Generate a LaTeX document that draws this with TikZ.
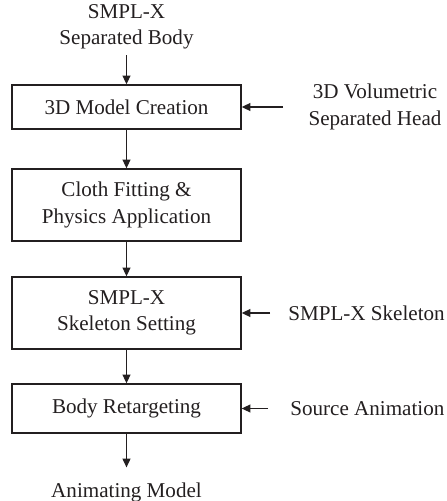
\documentclass[tikz,border=0pt]{standalone}
\usepackage{fontspec}
\setmainfont{Liberation Serif}
\usepackage{xcolor}
\usepackage{tikz}
\usetikzlibrary{arrows.meta}
\definecolor{ink}{HTML}{231F20}
\tikzset{
  blk/.style={draw=ink, line width=0.75pt, minimum width=4.58cm, align=center, text=ink, font=\fontsize{12}{15}\selectfont},
  arr/.style={draw=ink, line width=0.75pt, -{Triangle[length=5pt,width=4.5pt]}},
  lab/.style={text=ink, align=center, font=\fontsize{12}{15}\selectfont},
  side/.style={lab, inner sep=0pt, anchor=west},
}
\begin{document}
\begin{tikzpicture}
  \useasboundingbox (0,0) rectangle (8.92,-10.02);
  \node[lab] (in) at (2.53,-0.53) {SMPL-X\\Separated Body};
  \node[blk, minimum height=0.88cm] (b1) at (2.53,-2.14) {3D Model Creation};
  \node[blk, minimum height=1.44cm] (b2) at (2.53,-4.10) {Cloth Fitting \&\\Physics Application};
  \node[blk, minimum height=1.44cm] (b3) at (2.53,-6.26) {SMPL-X\\Skeleton Setting};
  \node[blk, minimum height=0.98cm] (b4) at (2.53,-8.17) {Body Retargeting};
  \node[lab] (out) at (2.53,-9.84) {Animating Model};
  \node[lab, inner sep=0pt] (hd) at (7.5,-2.14) {3D Volumetric\\Separated Head};
  \node[side] (sk) at (5.76,-6.26) {SMPL-X Skeleton};
  \node[side] (src) at (5.80,-8.17) {Source Animation};
  \draw[arr] (in) -- (b1);
  \draw[arr] (b1) -- (b2);
  \draw[arr] (b2) -- (b3);
  \draw[arr] (b3) -- (b4);
  \draw[arr, shorten >=5pt] (b4) -- (out);
  \draw[arr, shorten <=0.5cm] (hd.west) -- (b1.east);
  \draw[arr, shorten <=0.36cm] (sk.west) -- (b3.east);
  \draw[arr, shorten <=0.44cm] (src.west) -- (b4.east);
\end{tikzpicture}
\end{document}
